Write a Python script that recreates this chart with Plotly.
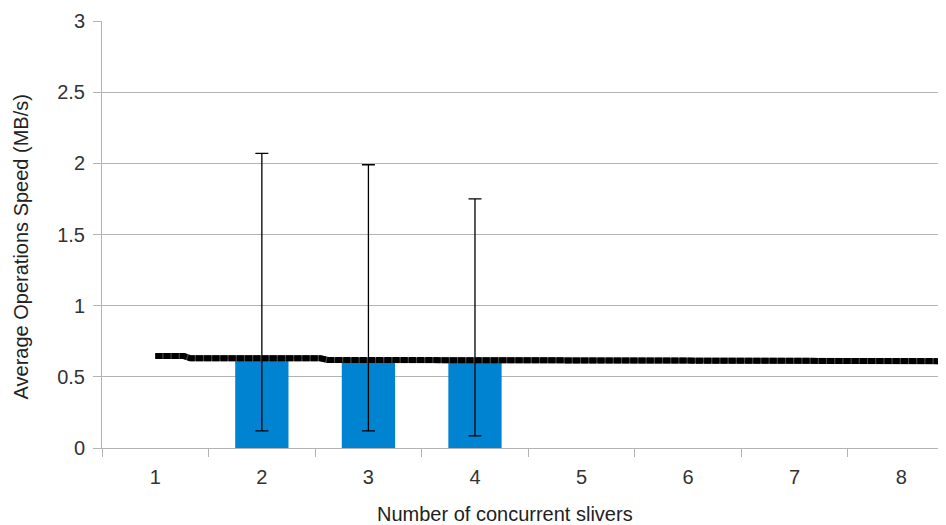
import plotly.graph_objects as go

categories = ["1", "2", "3", "4", "5", "6", "7", "8"]
bar_values = [None, 0.62, 0.62, 0.62, None, None, None, None]
err_plus = [None, 1.45, 1.37, 1.13, None, None, None, None]
err_minus = [None, 0.50, 0.50, 0.535, None, None, None, None]

line_x = [1.0, 1.27, 1.33, 2.55, 2.62, 5.30, 5.36, 8.6]
line_y = [0.646, 0.646, 0.630, 0.630, 0.619, 0.619, 0.610, 0.610]

y_ticks = [0, 0.5, 1, 1.5, 2, 2.5, 3]
y_ticktext = ["0", "0.5", "1", "1.5", "2", "2.5", "3"]

x_title = "Number of concurrent slivers"
y_title = "Average Operations Speed (MB/s)"

FONT = "Liberation Sans, Arial, sans-serif"
FS = 20

fig = go.Figure()
fig.add_trace(go.Bar(
    x=categories, y=bar_values, width=0.5,
    marker=dict(color="#0084D1", line=dict(width=0)),
    error_y=dict(type="data", symmetric=False, array=err_plus, arrayminus=err_minus,
                 color="black", thickness=1.3, width=6.5),
    showlegend=False, hoverinfo="skip",
))
fig.add_trace(go.Scatter(
    x=line_x, y=line_y, xaxis="x2", mode="lines",
    line=dict(color="#444444", width=6), showlegend=False, hoverinfo="skip",
))
fig.add_trace(go.Scatter(
    x=line_x, y=line_y, xaxis="x2", mode="lines",
    line=dict(color="black", width=6, dash="7px,1.2px"), showlegend=False, hoverinfo="skip",
))

# page body has an 8px margin; the plot area runs past the right window edge
fig.update_layout(
    width=946, height=517,
    margin=dict(l=94, r=0, t=13, b=77),
    paper_bgcolor="white", plot_bgcolor="white",
    font=dict(family=FONT, size=FS, color="#333333"),
    xaxis=dict(
        type="category", categoryorder="array", categoryarray=categories,
        range=[-0.5, 7.495], tickson="boundaries", ticks="outside", ticklen=8,
        tickcolor="#b3b3b3", tickwidth=1, showgrid=False, showline=True,
        linecolor="#b3b3b3", linewidth=1, ticklabelstandoff=11, automargin=False,
        tickfont=dict(size=FS, color="#333333"),
        zeroline=False, fixedrange=True,
    ),
    xaxis2=dict(
        overlaying="x", range=[0.5, 8.495], visible=False, showgrid=False, zeroline=False,
    ),
    yaxis=dict(
        range=[0, 3], tickvals=y_ticks, ticktext=y_ticktext, ticks="outside", ticklen=8,
        tickcolor="#b3b3b3", showgrid=True, gridcolor="#b3b3b3", gridwidth=1,
        showline=True, linecolor="#b3b3b3", linewidth=1, zeroline=False,
        ticklabelstandoff=4, automargin=False,
        tickfont=dict(size=FS, color="#333333"),
    ),
    bargap=0.5,
    annotations=[
        dict(text=x_title, xref="paper", yref="paper", x=0.473, y=-0.1546,
             xanchor="center", yanchor="middle", showarrow=False,
             font=dict(size=FS, color="#222222")),
        dict(text=y_title, xref="paper", yref="paper", x=-0.0951, y=0.472,
             xanchor="center", yanchor="middle", showarrow=False, textangle=-90,
             font=dict(size=FS, color="#222222")),
    ],
)

fig.write_html("out.html", post_script="document.body.style.overflow='hidden';")
